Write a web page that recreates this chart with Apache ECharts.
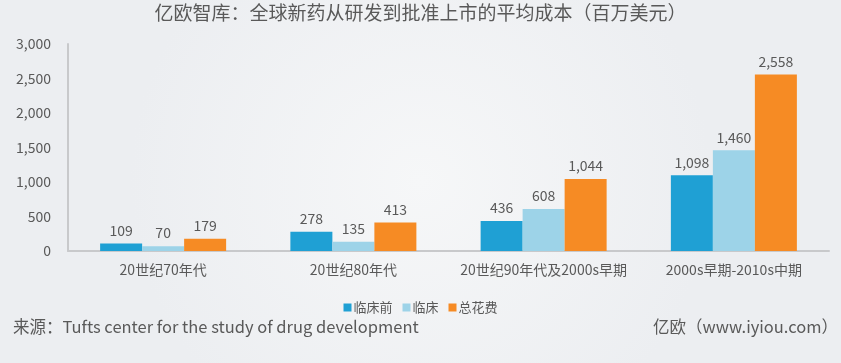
<!DOCTYPE html>
<html><head><meta charset="utf-8">
<script src="https://cdn.jsdelivr.net/npm/echarts@6/dist/echarts.min.js"></script>
<style>html,body{margin:0;padding:0;background:#f1f2f4;}#c{width:841px;height:363px;}</style>
</head><body><div id="c"></div>
<script>
const categories = ['20世纪70年代', '20世纪80年代', '20世纪90年代及2000s早期', '2000s早期-2010s中期'];
const preClinical = [109, 278, 436, 1098];
const clinical = [70, 135, 608, 1460];
const total = [179, 413, 1044, 2558];
const seriesNames = ['临床前', '临床', '总花费'];
const colors = ['#1fa0d4', '#9dd3e8', '#f68b24'];
const font = '"Noto Sans CJK SC", "Noto Sans", sans-serif';
const txt = '#595959';
const chart = echarts.init(document.getElementById('c'), null, {renderer: 'canvas'});
const lbl = {show: true, position: 'top', distance: 6, color: txt, fontSize: 14, fontFamily: font,
  formatter: p => p.value.toLocaleString('en-US')};
chart.setOption({
  backgroundColor: {type: 'radial', x: 0.5, y: 0.5, r: 0.8, colorStops: [{offset: 0, color: '#f6f7f8'}, {offset: 1, color: '#eceef1'}]},
  animation: false,
  title: [
    {text: '亿欧智库：全球新药从研发到批准上市的平均成本（百万美元）', left: 'center', top: 3, padding: 0,
      textStyle: {fontSize: 19, fontWeight: 'normal', color: txt, fontFamily: font}},
    {text: '来源：Tufts center for the study of drug development', left: 13, top: 318, padding: 0,
      textStyle: {fontSize: 16.5, fontWeight: 'normal', color: txt, fontFamily: font}},
    {text: '亿欧（www.iyiou.com）', right: 3, top: 318, padding: 0,
      textStyle: {fontSize: 16.5, fontWeight: 'normal', color: txt, fontFamily: font}}
  ],
  legend: {data: seriesNames, top: 296, left: 'center', itemWidth: 8, itemHeight: 8, itemGap: 10,
    icon: 'rect', textStyle: {fontSize: 13, color: txt, fontFamily: font, padding: [0, 0, 0, -3]}},
  grid: {left: 68, right: 12, top: 44, bottom: 112, containLabel: false},
  xAxis: {type: 'category', data: categories,
    axisLine: {lineStyle: {color: '#c8c9cb', width: 2}}, axisTick: {show: false},
    axisLabel: {color: txt, fontSize: 14, fontFamily: font, margin: 12, interval: 0}},
  yAxis: {type: 'value', min: 0, max: 3000, interval: 500,
    axisLine: {show: true, lineStyle: {color: '#c8c9cb', width: 2}}, axisTick: {show: false},
    splitLine: {show: false},
    axisLabel: {color: txt, fontSize: 14, fontFamily: font, margin: 17,
      formatter: v => v.toLocaleString('en-US')}},
  series: [
    {name: seriesNames[0], type: 'bar', data: preClinical, barWidth: 42, barGap: '0%', itemStyle: {color: colors[0]}, label: lbl},
    {name: seriesNames[1], type: 'bar', data: clinical, barWidth: 42, barGap: '0%', itemStyle: {color: colors[1]}, label: lbl},
    {name: seriesNames[2], type: 'bar', data: total, barWidth: 42, barGap: '0%', itemStyle: {color: colors[2]}, label: lbl}
  ]
});
</script></body></html>
